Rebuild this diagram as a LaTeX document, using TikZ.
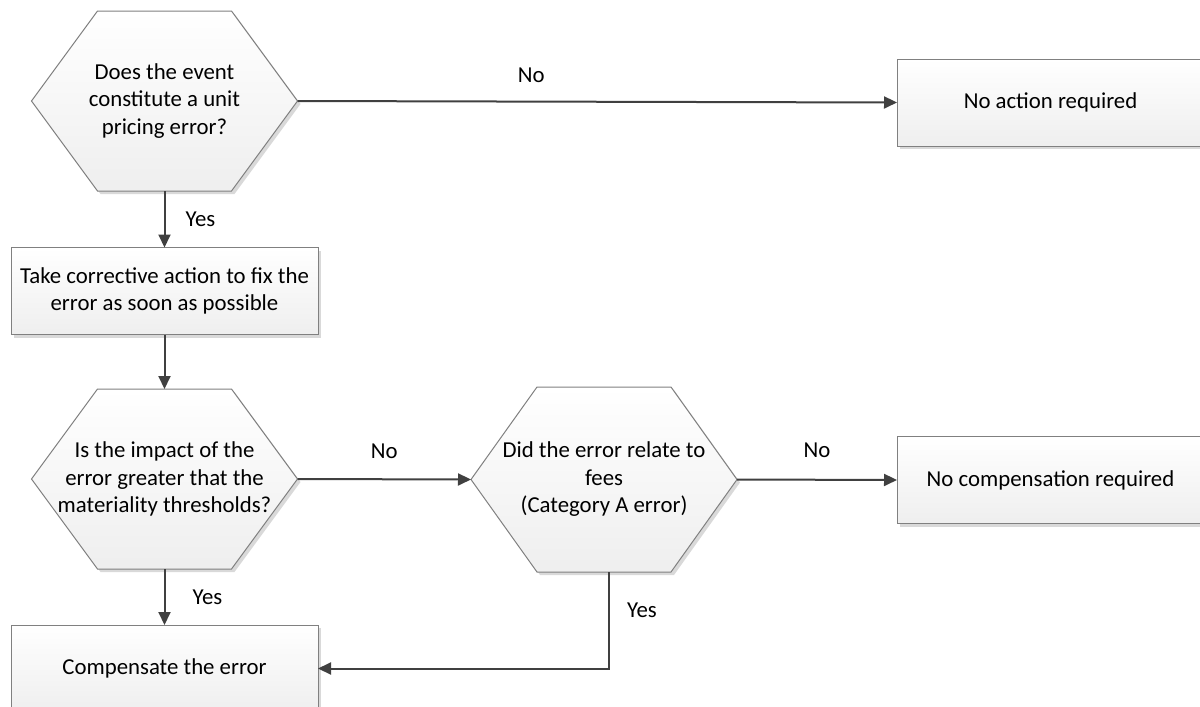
\documentclass[tikz,border=0pt]{standalone}
\usepackage{fontspec}
\setmainfont{Carlito}
\usetikzlibrary{arrows.meta, shadows, backgrounds}

\definecolor{boxgray}{HTML}{808080}
\definecolor{linegray}{HTML}{404040}

% Hexagon outline around a named node
\newcommand{\hexaround}[1]{(#1.west) -- ([xshift=66pt]#1.north west) -- ([xshift=-66pt]#1.north east) -- (#1.east) -- ([xshift=-66pt]#1.south east) -- ([xshift=66pt]#1.south west) -- cycle}

\begin{document}
\begin{tikzpicture}[x=1pt, y=-1pt,
    font=\fontsize{22.8}{27.5}\selectfont,
    % Define the style for the action boxes
    actionbox/.style={
        draw=boxgray, line width=1pt, top color=white, bottom color=gray!13,
        minimum width=307pt, minimum height=87pt, align=center,
        inner sep=0pt, outer sep=0pt,
        drop shadow={shadow xshift=3pt, shadow yshift=-3pt, fill=gray!30, opacity=1}
    },
    % Define the style for the decisions (text only, the hexagon is drawn behind)
    decision/.style={
        minimum width=266pt, minimum height=180pt, align=center,
        inner sep=0pt, outer sep=0pt
    },
    hexshape/.style={
        draw=boxgray, line width=1pt, top color=white, bottom color=gray!13,
        drop shadow={shadow xshift=3pt, shadow yshift=-3pt, fill=gray!30, opacity=1}
    },
    % Define the style for the connectors and their labels
    flow/.style={draw=linegray, line width=2pt, -{Triangle[length=13pt, width=12pt]}},
    lbl/.style={text=black, inner sep=0pt}
]

\path[use as bounding box, clip] (0,0) rectangle (1200,707);

% Place the decisions
\node[decision] (q1) at (164.5,101) {Does the event\\constitute a unit\\pricing error?};
\node[decision] (q2) at (164.5,479) {Is the impact of the\\error greater that the\\materiality thresholds?};
\node[decision, minimum height=185pt] (q3) at (604,479.5) {Did the error relate to\\fees\\(Category A error)};

% Place the actions
\node[actionbox] (fix) at (164.5,291) {Take corrective action to fix the\\error as soon as possible};
\node[actionbox] (noact) at (1050.5,102.5) {No action required};
\node[actionbox] (nocomp) at (1050.5,480) {No compensation required};
\node[actionbox] (comp) at (164.5,668.5) {Compensate the error};

% Draw the hexagons behind the decisions
\begin{pgfonlayer}{background}
\foreach \q in {q1,q2,q3}
    \path[hexshape] \hexaround{\q};
\end{pgfonlayer}

% Draw the connectors
\draw[flow] (q1.east) -- node[lbl, pos=0.39, yshift=26pt] {No} (noact.west);
\draw[flow] (q1.south) -- node[lbl, xshift=36pt] {Yes} (fix.north);
\draw[flow] (fix.south) -- (q2.north);
\draw[flow] (q2.east) -- node[lbl, yshift=28pt] {No} (q3.west);
\draw[flow] (q3.east) -- node[lbl, yshift=29pt] {No} (nocomp.west);
\draw[flow] (q2.south) -- node[lbl, xshift=43pt] {Yes} (comp.north);
\draw[flow] ([xshift=5pt]q3.south) |- node[lbl, pos=0.2, xshift=33pt] {Yes} (comp.east);

\end{tikzpicture}
\end{document}
